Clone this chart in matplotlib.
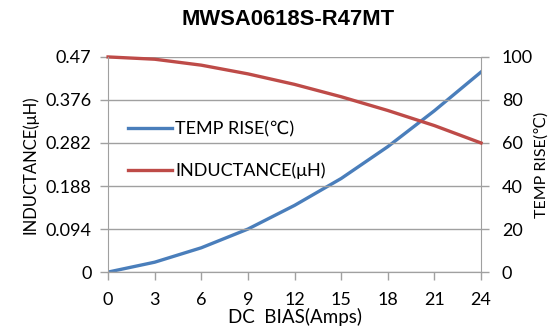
import matplotlib
matplotlib.use("Agg")
import matplotlib.pyplot as plt
from matplotlib.ticker import FixedLocator

plt.rcParams['font.family'] = ['Lato', 'DejaVu Sans']

# data
bias = [0, 3, 6, 9, 12, 15, 18, 21, 24]
temp_rise = [0, 4.6, 11.3, 20, 31, 43.5, 58.3, 75, 93]
inductance = [0.47, 0.465, 0.452, 0.433, 0.41, 0.383, 0.353, 0.32, 0.282]
l_ticks = [0, 0.094, 0.188, 0.282, 0.376, 0.47]
l_labels = ['0', '0.094', '0.188', '0.282', '0.376', '0.47']
t_ticks = [0, 20, 40, 60, 80, 100]

blue = '#4a7ebb'
red = '#be4b48'
grid_c = '#a0a0a0'

fig = plt.figure(figsize=(5.6, 3.31), dpi=100)
ax = fig.add_axes([0.193, 0.178, 0.666, 0.65])
ax2 = ax.twinx()

ax.set_xlim(0, 24)
ax.set_ylim(0, 0.47)
ax2.set_ylim(0, 100)

ax.xaxis.set_major_locator(FixedLocator(bias))
ax.yaxis.set_major_locator(FixedLocator(l_ticks))
ax.set_yticklabels(l_labels)
ax2.yaxis.set_major_locator(FixedLocator(t_ticks))

ax.grid(axis='y', color=grid_c, lw=1)
ax.set_axisbelow(True)

for a in (ax, ax2):
    for s in a.spines.values():
        s.set_color(grid_c)
    a.spines['top'].set_visible(False)
    a.tick_params(colors=grid_c, labelcolor='black', labelsize=13, length=6, width=1)
ax.tick_params(axis='x', pad=8)
ax.tick_params(axis='y', pad=6)
ax2.tick_params(axis='y', pad=9)
ax.spines['right'].set_visible(False)
ax2.spines['left'].set_visible(False)

l1, = ax2.plot(bias, temp_rise, color=blue, lw=2.4)
l2, = ax.plot(bias, inductance, color=red, lw=2.4, clip_on=False)
ax.set_zorder(ax2.get_zorder() + 1)
ax.patch.set_visible(False)

ax.set_xlabel('DC  BIAS(Amps)', fontsize=13.5, labelpad=0)
ax.set_ylabel('INDUCTANCE(μH)', fontsize=12, labelpad=5)
ax2.set_ylabel('TEMP RISE(℃)', fontsize=11.5, labelpad=1)

leg = ax.legend([l1, l2], ['TEMP RISE(℃)', 'INDUCTANCE(μH)'], loc='center left',
                bbox_to_anchor=(0.02, 0.566), frameon=False, fontsize=13,
                handlelength=2.4, handletextpad=0.2, labelspacing=1.4,
                borderaxespad=0.3)

fig.text(0.515, 0.94, 'MWSA0618S-R47MT', ha='center', va='center',
         fontsize=15.8, fontweight='bold', family=['Liberation Sans', 'DejaVu Sans'])

fig.savefig('out.png', dpi=100)
